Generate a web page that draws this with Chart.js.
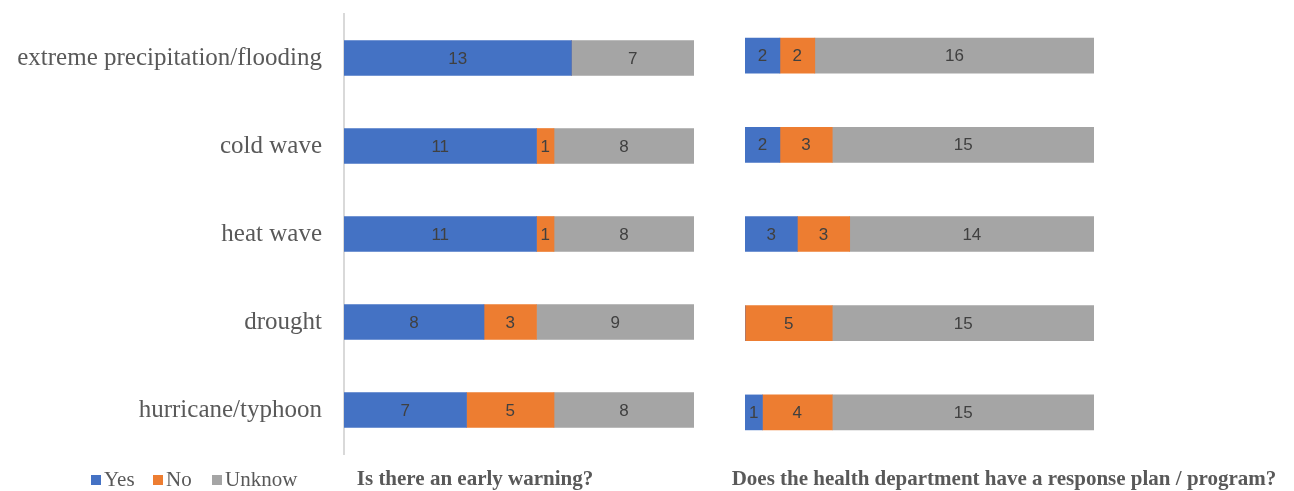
<!DOCTYPE html>
<html>
<head>
<meta charset="utf-8">
<script src="https://cdn.jsdelivr.net/npm/chart.js@4/dist/chart.umd.min.js"></script>
<style>
  html, body { margin: 0; padding: 0; background: #fff; }
  #wrap { position: relative; width: 1294px; height: 491px; overflow: hidden; }
  canvas { position: absolute; }
  #cLeft { left: 0; top: -23px; }
  #cRight { left: 700px; top: 0; }
  .legend-item { position: absolute; top: 467px; font-family: "Liberation Serif", "Times New Roman", serif;
                 font-size: 21px; color: #595959; white-space: nowrap; line-height: 24px; }
  .legend-item i { display: inline-block; width: 10px; height: 10px; margin-right: 3px; vertical-align: 1px; }
  .title { position: absolute; top: 466px; font-family: "Liberation Serif", "Times New Roman", serif; font-weight: bold;
           font-size: 21px; color: #595959; white-space: nowrap; line-height: 24px; transform: translateX(-50%); }
</style>
</head>
<body>
<div id="wrap">
  <canvas id="cLeft" width="700" height="514"></canvas>
  <canvas id="cRight" width="594" height="491"></canvas>
  <div class="title" id="titleLeft" style="left:475px"></div>
  <div class="title" id="titleRight" style="left:1004px"></div>
</div>
<script>
// Hazard categories, top to bottom
const categories = ["extreme precipitation/flooding", "cold wave", "heat wave", "drought", "hurricane/typhoon"];
const seriesNames = ["Yes", "No", "Unknow"];
const seriesColors = ["#4472C4", "#ED7D31", "#A5A5A5"];

// Is there an early warning?
const warningYes = [13, 11, 11, 8, 7];
const warningNo = [0, 1, 1, 3, 5];
const warningUnknow = [7, 8, 8, 9, 8];

// Does the health department have a response plan / program?
const planYes = [2, 2, 3, 0, 1];
const planNo = [2, 3, 3, 5, 4];
const planUnknow = [16, 15, 14, 15, 15];

const panelTitles = ["Is there an early warning?", "Does the health department have a response plan / program?"];

// Value labels centred inside each stacked segment
const segmentLabels = {
  id: 'segmentLabels',
  afterDatasetsDraw(chart) {
    const ctx = chart.ctx;
    ctx.save();
    ctx.font = '17px "Liberation Sans", Arial, sans-serif';
    ctx.fillStyle = '#404040';
    ctx.textAlign = 'center';
    ctx.textBaseline = 'middle';
    chart.data.datasets.forEach((ds, di) => {
      const meta = chart.getDatasetMeta(di);
      meta.data.forEach((bar, i) => {
        const v = ds.data[i];
        if (!v) return;
        ctx.fillText(String(v), (bar.x + bar.base) / 2, bar.y + 1);
      });
    });
    ctx.restore();
  }
};

function makeDatasets(values) {
  return values.map((data, k) => ({
    label: seriesNames[k],
    data: data,
    backgroundColor: seriesColors[k],
    borderWidth: 0,
    barThickness: 35,
    stack: 's'
  }));
}

function makeOptions(showLabels, padding, yWidth) {
  return {
    indexAxis: 'y',
    responsive: false,
    animation: false,
    layout: { padding: padding },
    plugins: { legend: { display: false }, tooltip: { enabled: false } },
    scales: {
      x: { stacked: true, min: 0, max: 20, display: false },
      y: {
        stacked: true,
        display: true,
        afterFit: (scale) => { scale.width = yWidth; },
        grid: { display: false, drawTicks: false },
        border: { display: showLabels, color: '#D9D9D9', width: 2 },
        ticks: {
          display: showLabels,
          padding: 22,
          color: '#595959',
          font: { family: '"Liberation Serif", "Times New Roman", serif', size: 25 }
        }
      }
    }
  };
}

new Chart(document.getElementById('cLeft'), {
  type: 'bar',
  data: { labels: categories, datasets: makeDatasets([warningYes, warningNo, warningUnknow]) },
  options: makeOptions(true, { left: 0, right: 6, top: 0, bottom: 36 }, 344),
  plugins: [segmentLabels]
});

new Chart(document.getElementById('cRight'), {
  type: 'bar',
  data: { labels: categories, datasets: makeDatasets([planYes, planNo, planUnknow]) },
  options: makeOptions(false, { left: 0, right: 200, top: 11, bottom: 34 }, 45),
  plugins: [segmentLabels]
});

// Legend and panel captions
const wrap = document.getElementById('wrap');
const legendLeft = [91, 153, 212];
seriesNames.forEach((name, k) => {
  const item = document.createElement('div');
  item.className = 'legend-item';
  item.style.left = legendLeft[k] + 'px';
  const sw = document.createElement('i');
  sw.style.background = seriesColors[k];
  item.appendChild(sw);
  item.appendChild(document.createTextNode(name));
  wrap.appendChild(item);
});
document.getElementById('titleLeft').textContent = panelTitles[0];
document.getElementById('titleRight').textContent = panelTitles[1];
</script>
</body>
</html>
